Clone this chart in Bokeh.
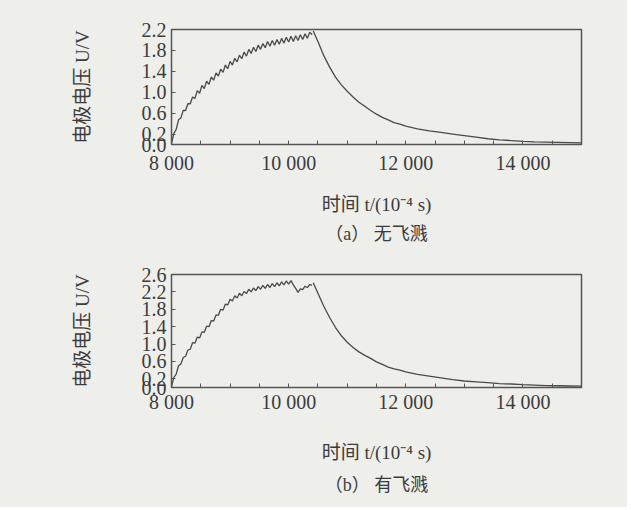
from bokeh.plotting import figure
from bokeh.layouts import column
from bokeh.models import Range1d, FixedTicker, Title
from bokeh.embed import file_html
from bokeh.resources import INLINE

# ---------------- data ----------------
rise_t = [8000, 8040, 8080, 8120, 8160, 8200, 8240, 8280, 8320, 8360,
          8400, 8440, 8480, 8520, 8560, 8600, 8640, 8680, 8720, 8760,
          8800, 8840, 8880, 8920, 8960, 9000, 9040, 9080, 9120, 9160,
          9200, 9240, 9280, 9320, 9360, 9400, 9440, 9480, 9520, 9560,
          9600, 9640, 9680, 9720, 9760, 9800, 9840, 9880, 9920, 9960,
          10000, 10040, 10080, 10120, 10160, 10200, 10240, 10280, 10320, 10360,
          10400]

a_rise_v = [0.02, 0.21, 0.29, 0.47, 0.51, 0.65, 0.65, 0.78, 0.78, 0.91,
            0.88, 1.03, 0.98, 1.13, 1.07, 1.21, 1.15, 1.29, 1.23, 1.37,
            1.31, 1.44, 1.38, 1.52, 1.45, 1.59, 1.52, 1.65, 1.58, 1.71,
            1.64, 1.77, 1.69, 1.82, 1.74, 1.86, 1.78, 1.90, 1.82, 1.93,
            1.85, 1.97, 1.88, 1.99, 1.90, 2.01, 1.92, 2.03, 1.94, 2.05,
            1.96, 2.07, 1.97, 2.08, 1.99, 2.10, 2.01, 2.12, 2.03, 2.15,
            2.10]

b_rise_v = [0.02, 0.23, 0.31, 0.50, 0.54, 0.69, 0.72, 0.86, 0.88, 1.03,
            1.02, 1.16, 1.14, 1.28, 1.27, 1.41, 1.40, 1.54, 1.53, 1.67,
            1.66, 1.80, 1.78, 1.92, 1.90, 2.03, 1.99, 2.11, 2.06, 2.17,
            2.11, 2.21, 2.16, 2.26, 2.20, 2.29, 2.23, 2.32, 2.26, 2.35,
            2.28, 2.37, 2.30, 2.39, 2.32, 2.41, 2.34, 2.43, 2.36, 2.45,
            2.38, 2.46, 2.36, 2.28, 2.19, 2.27, 2.25, 2.33, 2.30, 2.37,
            2.35]

decay_t = [10420, 10500, 10600, 10700, 10800, 10900, 11000, 11100, 11200, 11300,
           11400, 11500, 11600, 11700, 11800, 11900, 12000, 12200, 12400, 12600,
           12800, 13000, 13200, 13400, 13600, 13800, 14000, 14200, 14400, 14600,
           14800, 15000]

a_decay_v = [2.17, 1.97, 1.70, 1.48, 1.29, 1.14, 1.02, 0.91, 0.81, 0.73,
             0.65, 0.58, 0.52, 0.47, 0.42, 0.39, 0.35, 0.30, 0.26, 0.23,
             0.20, 0.17, 0.14, 0.11, 0.09, 0.075, 0.06, 0.05, 0.045, 0.04,
             0.035, 0.03]

b_decay_v = [2.41, 2.17, 1.87, 1.61, 1.38, 1.19, 1.04, 0.92, 0.82, 0.74,
             0.67, 0.59, 0.53, 0.47, 0.43, 0.40, 0.36, 0.30, 0.26, 0.22,
             0.18, 0.15, 0.13, 0.11, 0.09, 0.08, 0.065, 0.055, 0.045, 0.04,
             0.035, 0.03]

x_ticks = [8000, 10000, 12000, 14000]
x_tick_labels = ["8 000", "10 000", "12 000", "14 000"]
x_minor = [8500, 9000, 9500, 10500, 11000, 11500, 12500, 13000, 13500, 14500]

a_y_ticks = [0.0, 0.2, 0.6, 1.0, 1.4, 1.8, 2.2]
b_y_ticks = [0.0, 0.2, 0.6, 1.0, 1.4, 1.8, 2.2, 2.6]

y_title = "电极电压 U/V"
x_title = "时间 t/(10⁻⁴ s)"
captions = ["（a） 无飞溅", "（b） 有飞溅"]

# ---------------- style ----------------
BG = "#eeeeeb"
INK = "#3c3c3c"
CURVE = "#4a4a4a"
NUM_FONT = "Liberation Serif"
CJK_FONT = "Liberation Serif, Noto Sans CJK SC"


def make_panel(y_max, y_ticks, rise_v, decay_v, caption, fh, top, bottom,
               tick_sd, title_sd, cap_sd):
    p = figure(frame_width=410, frame_height=fh,
               x_range=Range1d(8000, 15000), y_range=Range1d(0, y_max),
               output_backend="svg", toolbar_location=None,
               min_border_left=171, min_border_right=46,
               min_border_top=top, min_border_bottom=bottom,
               background_fill_color=BG, border_fill_color=BG)
    p.grid.visible = False
    p.outline_line_color = "#555555"
    p.outline_line_width = 1.5

    p.line(rise_t, rise_v, line_color=CURVE, line_width=1.3)
    p.line(decay_t, decay_v, line_color=CURVE, line_width=1.3)

    xa = p.xaxis[0]
    xa.ticker = FixedTicker(ticks=x_ticks, minor_ticks=x_minor)
    xa.major_label_overrides = dict(zip(x_ticks, x_tick_labels))
    xa.axis_line_color = None
    xa.major_tick_in = 4
    xa.major_tick_out = 0
    xa.minor_tick_in = 4
    xa.minor_tick_out = 0
    xa.major_tick_line_color = "#555555"
    xa.minor_tick_line_color = "#555555"
    xa.major_label_standoff = tick_sd
    xa.major_label_text_font = NUM_FONT
    xa.major_label_text_font_size = "20px"
    xa.major_label_text_color = INK
    xa.axis_label = x_title
    xa.axis_label_text_font = CJK_FONT
    xa.axis_label_text_font_style = "normal"
    xa.axis_label_text_font_size = "19px"
    xa.axis_label_text_color = INK
    xa.axis_label_standoff = title_sd

    ya = p.yaxis[0]
    ya.ticker = FixedTicker(ticks=y_ticks)
    ya.major_label_overrides = {v: f"{v:.1f}" for v in y_ticks}
    ya.axis_line_color = None
    ya.major_tick_in = 4
    ya.major_tick_out = 0
    ya.minor_tick_line_color = None
    ya.major_tick_line_color = "#555555"
    ya.major_label_standoff = 5
    ya.major_label_text_font = NUM_FONT
    ya.major_label_text_font_size = "20px"
    ya.major_label_text_color = INK
    ya.axis_label = y_title
    ya.axis_label_text_font = CJK_FONT
    ya.axis_label_text_font_style = "normal"
    ya.axis_label_text_font_size = "19px"
    ya.axis_label_text_color = INK
    ya.axis_label_standoff = 46

    cap = Title(text=caption, align="center", text_font=CJK_FONT,
                text_font_size="18px", text_font_style="normal",
                text_color=INK, standoff=cap_sd)
    p.add_layout(cap, "below")
    return p


pa = make_panel(2.2, a_y_ticks, a_rise_v, a_decay_v, captions[0], 115, 29, 114,
                7, 17, 8)
pb = make_panel(2.6, b_y_ticks, b_rise_v, b_decay_v, captions[1], 113, 16, 120,
                3, 26, 14)

layout = column(pa, pb, spacing=0, styles={"background-color": BG})
html = file_html(layout, INLINE)
html = html.replace("<body>", '<body style="background-color: %s;">' % BG, 1)
open("out.html", "w").write(html)
